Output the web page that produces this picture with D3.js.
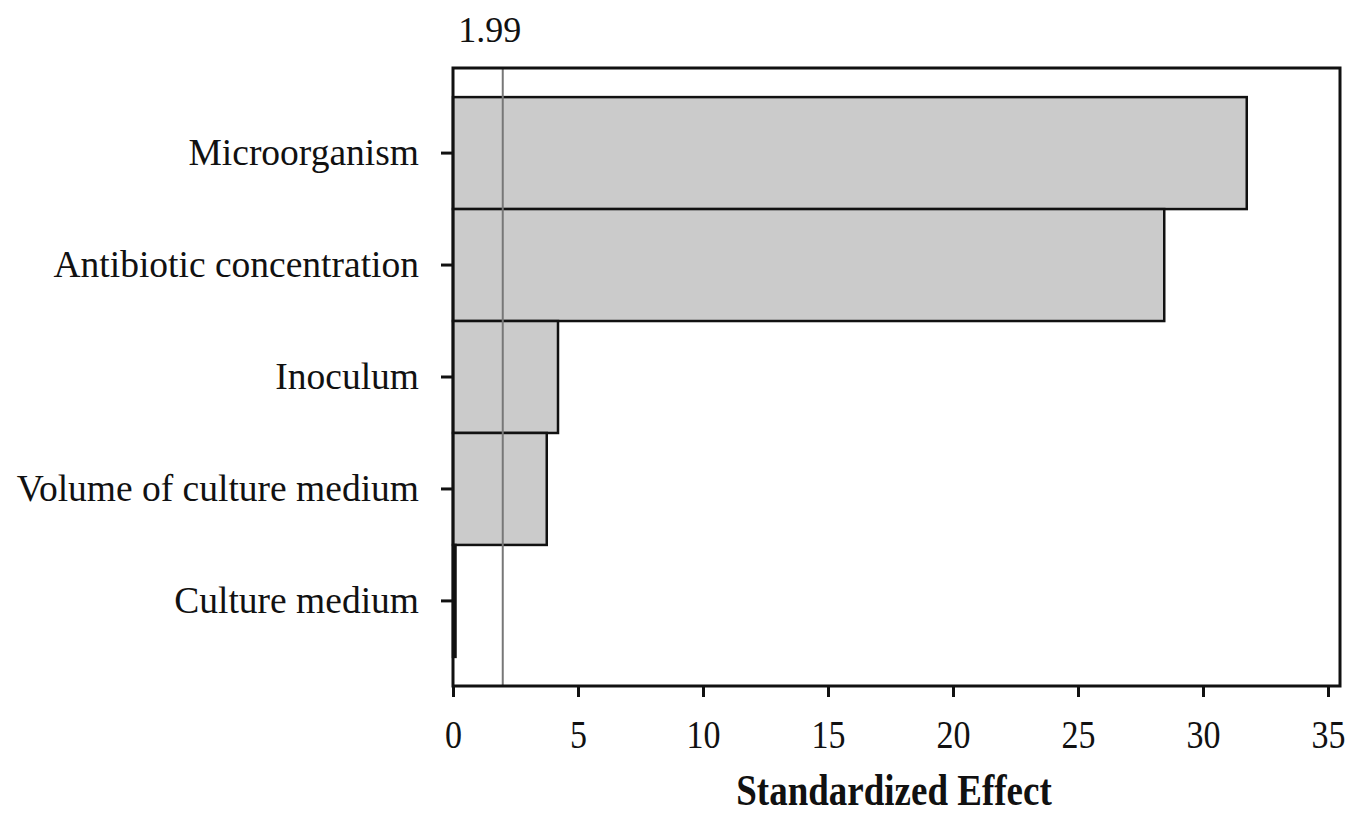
<!DOCTYPE html>
<html>
<head>
<meta charset="utf-8">
<script src="https://cdn.jsdelivr.net/npm/d3@7"></script>
<style>
  body { margin: 0; background: #fff; }
  text { font-family: "Liberation Serif", "Times New Roman", serif; fill: #111; }
</style>
</head>
<body>
<svg id="chart"></svg>
<script>
// factors and their standardized effects (Pareto chart)
var factors = ["Microorganism", "Antibiotic concentration", "Inoculum", "Volume of culture medium", "Culture medium"];
var effects = [31.75, 28.45, 4.2, 3.75, 0.1];
var xTicks = [0, 5, 10, 15, 20, 25, 30, 35];
var refValue = 1.99;

var margin = { top: 68, right: 9, bottom: 130, left: 453 };
var width = 887;
var height = 618;

var svg = d3.select("#chart")
    .attr("width", 1349)
    .attr("height", 816)
    .append("g")
    .attr("transform", "translate(" + margin.left + "," + margin.top + ")");

var xScale = d3.scaleLinear()
    .domain([0, 35])
    .range([0, 875]);

var yScale = d3.scaleBand()
    .domain(factors)
    .range([0, height])
    .paddingInner(0)
    .paddingOuter(0.26);

// bars
svg.selectAll("rect.bar")
    .data(factors)
    .enter().append("rect")
    .attr("class", "bar")
    .attr("x", xScale(0))
    .attr("y", function(d) { return yScale(d); })
    .attr("width", function(d, i) { return xScale(effects[i]) - xScale(0); })
    .attr("height", yScale.bandwidth())
    .attr("fill", "#cbcbcb")
    .attr("stroke", "#111")
    .attr("stroke-width", 2.5);

// reference line
svg.append("line")
    .attr("x1", xScale(refValue)).attr("x2", xScale(refValue))
    .attr("y1", 0).attr("y2", height)
    .attr("stroke", "#777")
    .attr("stroke-width", 2);

svg.append("text")
    .attr("x", xScale(refValue) - 13)
    .attr("y", -26)
    .style("text-anchor", "middle")
    .style("font-size", "36px")
    .text(d3.format(".2f")(refValue));

// frame
svg.append("rect")
    .attr("x", 0).attr("y", 0)
    .attr("width", width).attr("height", height)
    .attr("fill", "none")
    .attr("stroke", "#111")
    .attr("stroke-width", 3);

// x axis
var xAxis = svg.append("g")
    .attr("transform", "translate(0," + height + ")")
    .call(d3.axisBottom(xScale)
        .tickValues(xTicks)
        .tickSize(11)
        .tickFormat(d3.format(".0f")));
xAxis.select(".domain").remove();
xAxis.selectAll(".tick line").attr("stroke", "#111").attr("stroke-width", 3);
// digits in the original are tall and narrow
xAxis.selectAll(".tick text")
    .attr("font-family", null)
    .attr("y", 0)
    .attr("dy", null)
    .attr("transform", "translate(0,62) scale(1,1.2)")
    .style("font-size", "34px")
    .attr("fill", "#111");

// y axis
var yAxis = svg.append("g")
    .call(d3.axisLeft(yScale)
        .tickSize(12)
        .tickPadding(22));
yAxis.select(".domain").remove();
yAxis.selectAll(".tick line").attr("stroke", "#111").attr("stroke-width", 3);
yAxis.selectAll(".tick text")
    .attr("font-family", null)
    .style("font-size", "37.5px")
    .attr("fill", "#111");

// x axis label
svg.append("text")
    .attr("transform", "translate(441," + (height + 119) + ") scale(1,1.2)")
    .style("text-anchor", "middle")
    .style("font-size", "37px")
    .style("font-weight", "bold")
    .text("Standardized Effect");
</script>
</body>
</html>
